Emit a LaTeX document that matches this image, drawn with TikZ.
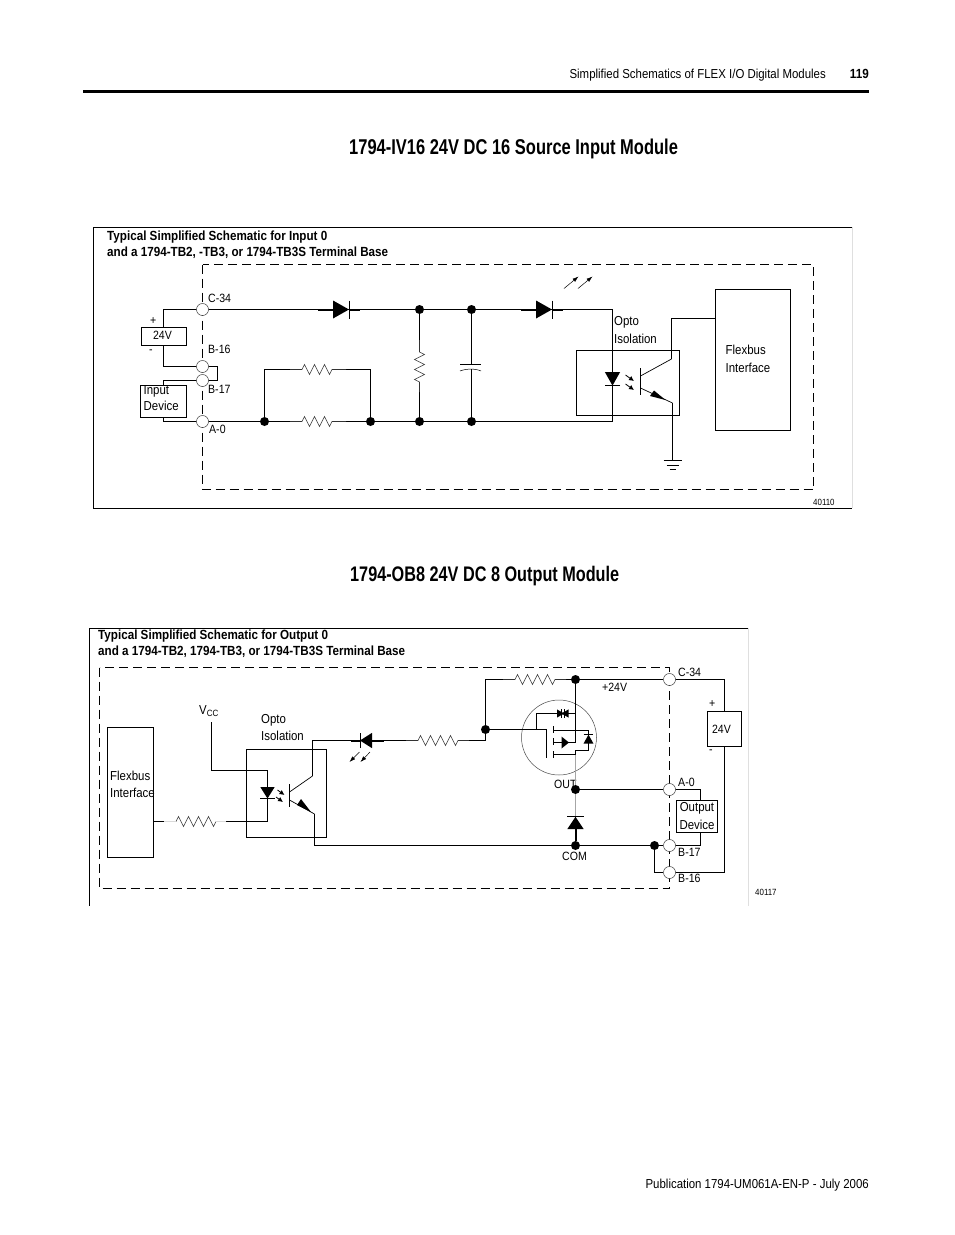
\documentclass[tikz,border=0pt]{standalone}
\usepackage{fontspec}
\setmainfont{Liberation Sans}[FakeStretch=0.88]
\newfontfamily\titlefont{Liberation Sans}[FakeStretch=0.77]
\usetikzlibrary{arrows.meta,decorations.pathmorphing}
\tikzset{>=latex}
\tikzset{
  wire/.style={line width=1.1pt},
  dashbox/.style={line width=.9pt,dash pattern=on 9pt off 5pt},
  termnode/.style={circle,draw=black!80,fill=white,line width=.5pt,minimum size=12pt,inner sep=0pt},
  dotnode/.style={circle,fill=black,minimum size=9pt,inner sep=0pt},
  boxnode/.style={draw,line width=.9pt,inner sep=0pt,align=center,font=\wordfont},
  lbl/.style={anchor=west,inner sep=0pt,align=left,font=\lblfont},
  wordlbl/.style={lbl,font=\wordfont},
  boldlbl/.style={anchor=west,inner sep=0pt,align=left,font=\headfont},
  resistor/.style={line width=.6pt,draw=black!80,decorate,
    decoration={zigzag,segment length=10pt,amplitude=5pt,pre length=12pt,post length=10pt}},
  ray/.style={-{Latex[length=6pt,width=4pt]},line width=.5pt},
  optoray/.style={-{Latex[length=5pt,width=5pt]},line width=.8pt},
  diode/.pic={
    \fill (0,-9)--(16,0)--(0,9)--cycle;
    \draw[line width=1pt] (16,-9)--(16,9);
  },
}
\newcommand{\lblfont}{\fontsize{12}{17.5}\selectfont}
\newcommand{\wordfont}{\fontsize{13}{17.5}\selectfont}
\newcommand{\headfont}{\fontsize{13.25}{16.5}\selectfont\bfseries}
\newcommand{\titlfont}{\titlefont\fontsize{21.4}{24}\selectfont\bfseries}
\begin{document}
\begin{tikzpicture}[x=1pt,y=-1pt]
  \useasboundingbox (0,0) rectangle (954,1235);
  % page furniture
  \node[wordlbl,anchor=base east] (hdr) at (826,78.5) {Simplified Schematics of FLEX I/O Digital Modules};
  \node[boldlbl,anchor=base east] (pageno) at (869,78.5) {119};
  \draw[line width=3pt] (83,91) -- (869,91);
  \node[anchor=west,inner sep=0pt,font=\titlfont] (titlea) at (349,148.5) {1794-IV16 24V DC 16 Source Input Module};
  \node[anchor=west,inner sep=0pt,font=\titlfont\fontsize{21.1}{24}\selectfont] (titleb) at (350,576.5) {1794-OB8 24V DC 8 Output Module};
  \node[wordlbl,anchor=base east] (pub) at (869,1188.5) {Publication 1794-UM061A-EN-P - July 2006};

  % ---- input module ----
  \draw[line width=.9pt] (852,227) -- (93,227) -- (93,508) -- (852,508);
  \draw[gray!25] (852,227) -- (852,508);
  \draw[dashbox] (202.5,264.5) rectangle (813.5,489.5);
  \node[boldlbl] (inhead) at (107,244.5) {Typical Simplified Schematic for Input 0\\and a 1794-TB2, -TB3, or 1794-TB3S Terminal Base};
  \foreach \n/\y in {ic/309.5,ibb/366.5,iba/380.5,ia/421.5}
    \node[termnode] (\n) at (202.5,\y) {};
  \foreach \n/\x/\y in {ija/419.5/309.5,ijb/471.5/309.5,ijc/264.5/421.5,ijd/370.5/421.5,ije/419.5/421.5,ijf/471.5/421.5}
    \node[dotnode] (\n) at (\x,\y) {};
  \foreach \n/\x/\y/\t in {ilc/208/298/C-34,ilbb/208/349/B-16,ilba/208/389/B-17,ila/209/429/A-0}
    \node[lbl] (\n) at (\x,\y) {\t};
  \node[boxnode,minimum width=45pt,minimum height=18pt,font=\lblfont] (isup) at (163.5,336) {\hspace{-2pt}\raisebox{1pt}{24V}};
  \node[lbl] (iplus) at (150,321) {+};
  \node[lbl] (iminus) at (149,352) {-};
  \node[boxnode,minimum width=46pt,minimum height=32pt] (idev) at (163.5,401) {};
  \node[wordlbl,font=\fontsize{13}{16}\selectfont] (idevt) at (143.5,398) {Input\\Device};
  \node[boxnode,minimum width=75pt,minimum height=141pt] (iflex) at (753,359.5) {};
  \node[wordlbl] (iflext) at (725.5,359) {Flexbus\\Interface};
  \node[boxnode,minimum width=103pt,minimum height=65pt] (iopto) at (627.5,382.5) {};
  \node[wordlbl] (ioptot) at (614,330) {Opto\\Isolation};
  \node[lbl,font=\fontsize{9}{10}\selectfont] (icode) at (813,502.5) {40110};
  % left side wiring
  \coordinate (iloop) at (217.5,373);
  \draw[wire] (ic.west) -| (isup.north) (isup.south) |- (ibb.west);
  \draw[wire] (ibb.east) -| (iloop) |- (iba.east);
  \draw[wire] (iba.west) -| (idev.north) (idev.south) |- (ia.west);
  % main rails
  \coordinate (irail) at (612.5,309.5);
  \coordinate (irailb) at (612.5,421.5);
  \draw[wire] (ic.east) -- (irail) -- (irailb) -- (ia.east);
  \pic at (333,309.5) {diode};
  \pic at (536,309.5) {diode};
  \foreach \x in {318,521}
    \draw[line width=2pt] (\x,309.5) -- +(15,0);
  \foreach \x in {349,552}
    \draw[line width=2pt] (\x,309.5) -- +(11,0);
  % resistors
  \coordinate (irka) at (290,369.5);
  \coordinate (irkb) at (346,369.5);
  \coordinate (irkc) at (290,421.5);
  \coordinate (irkd) at (346,421.5);
  \coordinate (irke) at (419.5,340);
  \coordinate (irkf) at (419.5,392);
  \draw[wire] (ijc) |- (irka) (irkb) -| (ijd);
  \draw[white,line width=2.5pt] (irkc) -- (irkd);
  \draw[resistor] (irka) -- (irkb);
  \draw[resistor] (irkc) -- (irkd);
  \draw[wire] (ija) -- (irke);
  \draw[wire] (irkf) -- (ije);
  \draw[resistor] (irke) -- (irkf);
  % capacitor
  \coordinate (icapa) at (471.5,364);
  \coordinate (icapb) at (471.5,369);
  \draw[wire] (ijb) -- (icapa) (icapb) -- (ijf);
  \draw[line width=.7pt] (460,364) -- (481,364);
  \draw[line width=.5pt] (460,371) .. controls (466,368.5) and (476,368.5) .. (481,371);
  % rays above the status led
  \draw[ray] (564,288.5) -- (578.5,276.5);
  \draw[ray] (578,288.5) -- (592.5,276.5);
  % opto coupler
  \pic[rotate=-90,scale=.85,xscale=1] at (612.5,372) {diode};
  \draw[optoray] (625.5,375) -- (634,381);
  \draw[optoray] (625.5,384) -- (634,390);
  \draw[line width=1pt] (640.5,368) -- (640.5,395);
  \coordinate (iqc) at (671.5,359);
  \coordinate (iqe) at (672.5,403);
  \coordinate (ignd) at (672.5,460.5);
  \draw[line width=.7pt] (640.5,376) -- (iqc);
  \draw[wire] (iqc) |- (iflex.west |- 0,318.5);
  \draw[line width=.7pt] (640.5,388) -- (iqe);
  \fill (650,396) -- (665.5,400) -- (654,390.5) -- cycle;
  \draw[wire] (iqe) -- (ignd);
  \foreach \dy/\w in {0/9,5/6,9/3}
    \draw[line width=.7pt] ([shift={(-\w,\dy)}]ignd) -- ([shift={(\w,\dy)}]ignd);

  % ---- output module ----
  \draw[line width=.9pt] (748,628) -- (89,628) -- (89,906);
  \draw[gray!25] (748,628) -- (748,906);
  \draw[dashbox] (99.5,667.5) rectangle (669.5,888.5);
  \node[boldlbl] (ouhead) at (98,643.5) {Typical Simplified Schematic for Output 0\\and a 1794-TB2, 1794-TB3, or 1794-TB3S Terminal Base};
  \foreach \n/\y in {oc/679.5,oa/789.5,oba/845.5,obb/872.5}
    \node[termnode] (\n) at (669.5,\y) {};
  \foreach \n/\x/\y in {oja/485.5/729.5,ojb/575.5/679.5,ojc/575.5/789.5,ojd/575.5/845.5,oje/654.5/845.5}
    \node[dotnode] (\n) at (\x,\y) {};
  \foreach \n/\x/\y/\t in {olc/678/672/C-34,ola/678/782/A-0,olba/678/852/B-17,olbb/678/878/B-16,oout/554/784/OUT,ocom/562/856/COM,opos/602/687/+24V}
    \node[lbl] (\n) at (\x,\y) {\t};
  \node[boxnode,minimum width=34pt,minimum height=35pt,font=\lblfont] (osup) at (724.5,729) {24V\hspace{6pt}};
  \node[lbl] (oplus) at (709,704) {+};
  \node[lbl] (ominus) at (709,752) {-};
  \node[boxnode,minimum width=41pt,minimum height=32pt] (odev) at (697,816) {Output\\Device};
  \node[boxnode,minimum width=46pt,minimum height=130pt] (oflex) at (130,792) {};
  \node[wordlbl] (oflext) at (110,784.5) {Flexbus\\Interface};
  \node[boxnode,minimum width=80pt,minimum height=88pt] (oopto) at (286.5,793.5) {};
  \node[wordlbl] (ooptot) at (261,727.5) {Opto\\Isolation};
  \node[wordlbl] (ovcc) at (199,711) {V\textsubscript{CC}};
  \node[lbl,font=\fontsize{9}{10}\selectfont] (ocode) at (755,892) {40117};
  % right side wiring
  \draw[wire] (oc.east) -| (osup.north) (osup.south) |- (obb.east);
  \coordinate (odevt) at (700.5,800);
  \coordinate (odevb) at (700.5,832);
  \draw[wire] (oa.east) -| (odevt);
  \draw[wire] (odevb) |- (oba.east);
  \draw[wire] (oje) |- (obb.west);
  % flexbus side
  \coordinate (orka) at (164,821.5);
  \coordinate (orkb) at (226,821.5);
  \coordinate (oled) at (267.5,821.5);
  \coordinate (ovcca) at (211.5,722);
  \coordinate (ovccb) at (267.5,770.5);
  \draw[wire] (oflex.east |- orka) -- (orka) (orkb) -- (oled) -- (ovccb) -- (ovcca |- ovccb) -- (ovcca);
  \draw[resistor] (orka) -- (orkb);
  \draw[gray!30,line width=1.2pt] (orka) -- +(12,0) (orkb) -- +(-11,0);
  \pic[rotate=-90,yscale=.8,xscale=.72] at (267.5,787) {diode};
  \draw[optoray] (277.5,790) -- (284.5,795);
  \draw[optoray] (276,797) -- (283,802);
  \draw[line width=1pt] (289.5,784) -- (289.5,807);
  \coordinate (oqc) at (312.5,776);
  \coordinate (oqe) at (314.5,814);
  \coordinate (oqd) at (312.5,740.5);
  \coordinate (orkc) at (406,740.5);
  \coordinate (orkd) at (469,740.5);
  \coordinate (orke) at (485.5,679.5);
  \coordinate (orkf) at (503,679.5);
  \coordinate (orkg) at (566,679.5);
  \draw[line width=.7pt] (289.5,792) -- (oqc);
  \draw[wire] (oqc) -- (oqd) -- (orkc);
  \draw[line width=.7pt] (289.5,800) -- (oqe);
  \fill (297,805) -- (311,812) -- (301,799) -- cycle;
  \draw[wire] (oqe) |- (oba.west);
  % output led and rays
  \pic[rotate=180,xscale=.75,yscale=.85] at (372,740.5) {diode};
  \draw[line width=2pt] (351,740.5) -- (360,740.5) (372,740.5) -- (384,740.5);
  \draw[ray] (359.5,752) -- (349.5,762);
  \draw[ray] (370,752) -- (360.5,762);
  \draw[resistor] (orkc) -- (orkd);
  \draw[wire] (orkd) -| (orke) -- (orkf) (orkg) -- (oc.west);
  \draw[resistor] (orkf) -- (orkg);
  % mosfet
  \node[circle,draw=black!70,line width=.5pt,minimum size=75pt,inner sep=0pt] (ofet) at (559,737.5) {};
  \coordinate (ofetg) at (546.5,729.5);
  \coordinate (ofeth) at (546.5,758);
  \coordinate (ofets) at (575.5,742.5);
  \coordinate (ofetd) at (575.5,750.5);
  \coordinate (ofetb) at (588.5,730.5);
  \coordinate (ofetz) at (536.5,713.5);
  \draw[wire] (oja) -- (ofetg) -- (ofeth);
  \foreach \a/\b in {726/733,738/745,751/758}
    \draw[wire] (553.5,\a) -- (553.5,\b);
  \draw[wire] (ojb) -- (ofets) -- (553.5,742.5);
  \draw[wire] (553.5,730.5) -- (ofetb) -- (588.5,735);
  \draw[wire] (553.5,754.5) -- (575.5,754.5) -- (ofetd) -- (588.5,750.5) -- (588.5,742);
  \draw[wire] (536.5,729.5) -- (ofetz) -- (575.5,713.5);
  \fill (561.5,736.5) -- (569,742.5) -- (561.5,748.5) -- cycle;
  \pic[rotate=90,scale=.55] at (588.5,743.5) {diode};
  \pic[scale=.45] at (557,713.5) {diode};
  \pic[rotate=180,scale=.45] at (568.5,713.5) {diode};
  % freewheel diode
  \draw[gray!70,line width=1pt] (575.5,754.5) -- (ojc);
  \draw[gray!70,line width=1pt] (ojc) -- (575.5,816);
  \pic[rotate=90,scale=.9,xscale=.85] at (575.5,829) {diode};
  \draw[line width=2pt] (575.5,829) -- (ojd);
  \draw[wire] (ojc) -- (oa.west);
\end{tikzpicture}
\end{document}
